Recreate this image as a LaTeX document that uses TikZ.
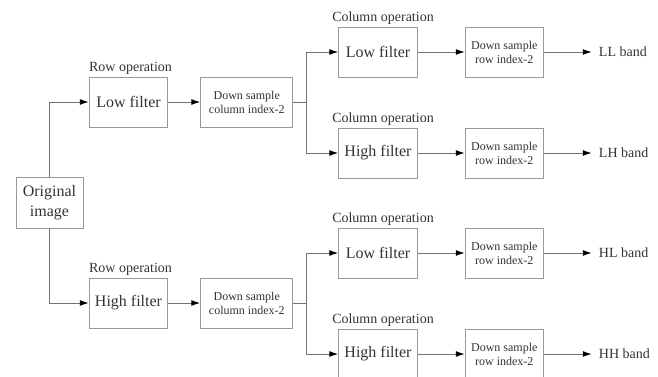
\documentclass[tikz,border=0pt]{standalone}
\usepackage{fontspec}
\setmainfont{Liberation Serif}
\usepackage{xcolor}
\usepackage{tikz}
\usetikzlibrary{arrows.meta, positioning}

\begin{document}
\begin{tikzpicture}[node distance=50pt and 32pt, >=Stealth]
        \tikzset{
            imagenode/.style={draw=black!40, line width=1pt, rectangle, inner sep=0pt, minimum width=67pt, minimum height=51pt, align=center, text=black!80, font=\fontsize{16}{20}\selectfont},
            filternode/.style={draw=black!40, line width=1pt, rectangle, inner sep=0pt, minimum width=78.5pt, minimum height=50pt, align=center, text=black!80, font=\fontsize{16}{19}\selectfont},
            samplenode/.style={draw=black!40, line width=1pt, rectangle, inner sep=0pt, minimum width=92pt, minimum height=50pt, align=center, text=black!80, font=\fontsize{12}{14}\selectfont},
            rowsamplenode/.style={samplenode, minimum width=78pt},
            opnode/.style={inner sep=1.5pt, text=black!80, font=\fontsize{14}{16}\selectfont},
            bandnode/.style={inner sep=0pt, text=black!80, font=\fontsize{14}{16}\selectfont},
            link/.style={draw=black!55, line width=1pt},
            arrowlink/.style={link, -{Latex[length=9pt, width=6pt, color=black]}},
            bandlink/.style={arrowlink, shorten >=7pt}
        }
        \useasboundingbox (0,0) rectangle (658pt,-376pt);

        % input and row stage
        \node [imagenode] (orig) at (49.5pt,-202.5pt) {Original\\image};
        \node [filternode] (rowL) at (128.5pt,-102pt) {Low filter};
        \node [filternode] (rowH) at (128.5pt,-303pt) {High filter};
        \node [samplenode, right=32pt of rowL] (dsL) {Down sample\\column index-2};
        \node [samplenode, right=32pt of rowH] (dsH) {Down sample\\column index-2};
        \node [opnode, above=0pt of rowL, xshift=2pt] (rowLop) {Row operation};
        \node [opnode, above=0pt of rowH, xshift=2pt] (rowHop) {Row operation};

        % column stage
        \node [filternode] (colLL) at (378pt,-52pt) {Low filter};
        \node [filternode, below=50pt of colLL] (colLH) {High filter};
        \node [filternode] (colHL) at (378pt,-253pt) {Low filter};
        \node [filternode, below=50pt of colHL] (colHH) {High filter};
        \foreach \b in {LL,LH,HL,HH} {
            \node [rowsamplenode, right=47pt of col\b] (ds\b) {Down sample\\row index-2};
            \node [bandnode, right=55pt of ds\b] (band\b) {\b\ band};
            \node [opnode, above=0pt of col\b, xshift=5pt] (col\b op) {Column operation};
            \draw [arrowlink] (col\b) -- (ds\b);
            \draw [bandlink] (ds\b) -- (band\b);
        }

        \coordinate [right=13pt of dsL] (jL);
        \coordinate [right=13pt of dsH] (jH);

        \draw [arrowlink] (orig.north) |- (rowL.west);
        \draw [arrowlink] (orig.south) |- (rowH.west);
        \draw [arrowlink] (rowL) -- (dsL);
        \draw [arrowlink] (rowH) -- (dsH);
        \draw [link] (dsL.east) -- (jL);
        \draw [link] (dsH.east) -- (jH);
        \draw [arrowlink] (jL) |- (colLL.west);
        \draw [arrowlink] (jL) |- (colLH.west);
        \draw [arrowlink] (jH) |- (colHL.west);
        \draw [arrowlink] (jH) |- (colHH.west);
    \end{tikzpicture}
\end{document}
